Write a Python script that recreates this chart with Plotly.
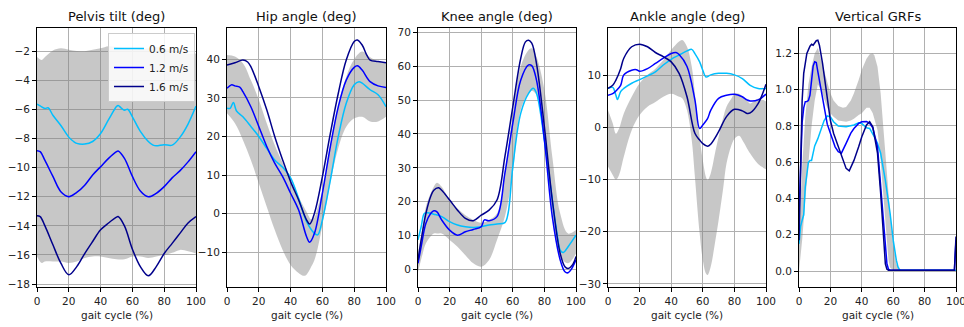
import plotly.graph_objects as go

# ---------------- DATA ----------------
speeds = ["0.6 m/s", "1.2 m/s", "1.6 m/s"]
titles = ["Pelvis tilt (deg)", "Hip angle (deg)", "Knee angle (deg)", "Ankle angle (deg)", "Vertical GRFs"]
xlabel = "gait cycle (%)"
x_ticks = [0, 20, 40, 60, 80, 100]

# Pelvis tilt
pel06_x = [0, 2, 5, 7, 10, 15, 20, 23, 25, 30, 35, 40, 45, 50, 51, 53, 55, 57, 60, 65, 70, 73, 75, 80, 85, 90, 95, 100]
pel06_y = [-5.63, -5.75, -5.93, -5.88, -6.4, -7.1, -7.9, -8.2, -8.33, -8.38, -8.2, -7.65, -6.7, -5.8, -5.72, -5.9, -6.05, -5.98, -6.5, -7.5, -8.2, -8.45, -8.5, -8.42, -8.45, -7.9, -7.0, -5.77]
pel12_x = [0, 2, 5, 10, 15, 20, 25, 30, 35, 40, 45, 50, 51, 55, 60, 65, 70, 75, 80, 85, 90, 95, 100]
pel12_y = [-8.83, -8.9, -9.5, -10.6, -11.65, -11.99, -11.7, -11.2, -10.5, -9.93, -9.36, -8.9, -8.85, -9.36, -10.6, -11.6, -12.0, -11.76, -11.3, -10.7, -10.2, -9.6, -8.9]
pel16_x = [0, 2, 5, 10, 15, 20, 25, 30, 35, 40, 45, 50, 51, 55, 60, 65, 70, 75, 80, 85, 90, 95, 100]
pel16_y = [-13.3, -13.36, -14.0, -15.3, -16.56, -17.36, -16.8, -15.9, -15.07, -14.27, -13.8, -13.4, -13.36, -14.0, -15.6, -16.8, -17.43, -16.8, -15.9, -15.2, -14.5, -13.8, -13.36]
pel_band_x = [0, 3, 5, 10, 15, 20, 25, 30, 35, 40, 45, 50, 55, 60, 65, 70, 75, 80, 85, 90, 95, 100]
pel_band_hi = [-2.4, -2.6, -2.4, -1.95, -1.8, -1.9, -1.98, -2.0, -1.9, -1.8, -1.65, -1.7, -1.8, -1.9, -1.85, -1.8, -1.7, -1.8, -1.9, -2.0, -2.15, -2.15]
pel_band_lo = [-16.1, -16.55, -16.45, -16.45, -16.45, -16.55, -16.45, -16.2, -16.1, -16.1, -16.2, -16.3, -16.3, -16.1, -16.1, -16.2, -16.1, -16.0, -15.85, -15.65, -15.75, -15.9]

# Hip angle
hip06_x = [0, 2, 4, 6, 10, 15, 20, 25, 30, 35, 40, 45, 50, 55, 57, 60, 65, 70, 75, 80, 83, 85, 90, 95, 100]
hip06_y = [27.3, 27.3, 28.8, 26.6, 25.1, 22.6, 20.0, 16.9, 13.9, 12.0, 9.3, 4.0, -2.0, -5.1, -5.5, -1.6, 8.7, 20.0, 28.6, 33.4, 34.2, 33.8, 32.1, 30.8, 27.7]
hip12_x = [0, 3, 5, 8, 10, 15, 20, 25, 30, 35, 40, 45, 50, 52, 55, 60, 65, 70, 75, 80, 82, 85, 90, 95, 100]
hip12_y = [32.5, 33.4, 33.1, 32.8, 31.6, 27.7, 22.6, 17.4, 13.1, 9.6, 5.3, 1.0, -5.9, -7.4, -5.1, 5.3, 17.4, 27.7, 34.6, 37.9, 38.3, 37.2, 34.2, 33.1, 32.7]
hip16_x = [0, 5, 10, 13, 15, 20, 25, 30, 35, 40, 45, 50, 52, 55, 60, 65, 70, 75, 80, 82, 85, 88, 90, 95, 100]
hip16_y = [38.5, 39.1, 39.8, 39.3, 38.1, 32.9, 26.9, 20.0, 13.9, 8.3, 3.6, -1.6, -2.7, 0.1, 9.6, 20.8, 31.2, 39.8, 44.6, 45.0, 43.7, 41.0, 39.8, 39.4, 39.1]
hip_band_x = [0, 5, 10, 15, 20, 25, 30, 35, 40, 45, 48, 50, 53, 55, 57, 60, 65, 70, 75, 80, 85, 90, 95, 100]
hip_band_hi = [41.1, 40.7, 39.0, 34.6, 29.5, 23.4, 17.8, 13.1, 8.3, 4.4, 2.0, 0.5, -1.5, -1.0, 1.5, 6.0, 17.0, 28.0, 35.5, 40.0, 42.0, 40.5, 39.4, 39.0]
hip_band_lo = [26.0, 23.4, 19.1, 13.9, 7.9, 1.8, -4.2, -9.4, -13.3, -15.4, -16.1, -15.8, -13.7, -12.0, -9.0, -3.0, 8.0, 17.0, 22.5, 24.7, 25.1, 23.9, 23.9, 25.1]

# Knee angle
knee06_x = [0, 2, 4, 6, 10, 15, 20, 25, 30, 35, 40, 45, 50, 55, 57, 60, 65, 70, 73, 75, 80, 85, 88, 90, 92, 95, 100]
knee06_y = [8.7, 12.6, 16.5, 16.7, 16.3, 15.6, 14.1, 13.1, 12.6, 12.4, 12.6, 13.1, 13.4, 13.8, 16.5, 30.3, 46.1, 52.0, 53.5, 52.0, 38.2, 20.5, 10.6, 5.7, 5.0, 6.7, 10.1]
knee12_x = [0, 2, 5, 8, 10, 12, 15, 20, 25, 30, 35, 40, 42, 45, 50, 55, 60, 65, 70, 72, 75, 80, 85, 90, 93, 95, 97, 100]
knee12_y = [1.8, 6.7, 13.6, 16.5, 17.3, 17.0, 14.6, 11.6, 10.1, 11.1, 11.8, 12.6, 14.6, 14.4, 15.6, 28.4, 43.1, 55.9, 60.4, 60.2, 55.9, 38.2, 15.6, 2.8, -0.7, -1.0, 0.0, 2.8]
knee16_x = [0, 2, 5, 8, 10, 13, 15, 20, 25, 30, 35, 40, 45, 50, 55, 60, 65, 68, 70, 72, 75, 80, 85, 90, 93, 95, 98, 100]
knee16_y = [2.8, 8.7, 16.5, 21.5, 23.4, 24.1, 23.4, 20.5, 17.5, 15.1, 14.4, 16.0, 17.5, 20.5, 33.3, 48.0, 62.3, 67.2, 67.7, 66.8, 60.8, 42.1, 20.5, 4.7, 0.8, 0.3, 1.5, 3.8]
knee_band_x = [0, 3, 5, 10, 12, 15, 20, 25, 30, 35, 40, 45, 50, 55, 60, 65, 70, 72, 75, 80, 85, 90, 95, 100]
knee_band_hi = [4.7, 12.6, 18.5, 24.4, 25.6, 24.4, 20.5, 18.0, 16.0, 14.6, 13.8, 14.6, 16.5, 28.4, 46.1, 59.9, 64.8, 65.3, 62.8, 53.0, 33.3, 16.5, 10.6, 11.6]
knee_band_lo = [-0.7, 4.7, 7.7, 10.6, 10.6, 10.6, 8.7, 6.7, 4.2, 1.8, 0.8, 2.8, 8.7, 15.6, 28.4, 47.1, 52.0, 52.8, 51.5, 37.2, 16.5, 3.7, 1.8, 4.7]

# Ankle angle
ank06_x = [0, 3, 5, 6, 8, 10, 15, 20, 25, 30, 35, 40, 45, 50, 53, 55, 58, 60, 62, 65, 70, 75, 80, 85, 90, 95, 100]
ank06_y = [7.5, 7.7, 6.2, 5.4, 6.9, 7.5, 8.5, 9.2, 9.9, 10.7, 12.0, 13.1, 13.9, 14.7, 15.0, 14.2, 12.6, 11.0, 9.7, 10.1, 10.4, 10.4, 10.1, 9.4, 8.1, 7.5, 7.5]
ank12_x = [0, 3, 5, 8, 10, 15, 18, 20, 25, 30, 35, 40, 43, 45, 50, 55, 58, 60, 63, 65, 70, 75, 80, 85, 88, 90, 95, 100]
ank12_y = [6.2, 6.5, 7.0, 8.1, 10.1, 11.0, 11.1, 10.8, 11.3, 12.3, 13.3, 14.2, 14.4, 14.0, 11.7, 5.3, -0.2, 0.5, 1.7, 3.3, 5.6, 6.2, 6.4, 5.9, 5.3, 5.1, 5.3, 6.4]
ank16_x = [0, 3, 5, 8, 10, 15, 20, 25, 30, 35, 40, 45, 50, 55, 58, 60, 63, 65, 70, 75, 80, 85, 88, 90, 95, 100]
ank16_y = [7.5, 8.1, 9.1, 11.3, 13.3, 15.5, 16.0, 15.5, 14.4, 13.6, 12.6, 10.4, 5.9, -1.1, -2.4, -3.1, -3.6, -3.2, -0.8, 2.1, 3.5, 3.2, 2.7, 2.8, 4.6, 8.3]
ank_band_x = [0, 3, 5, 7, 10, 15, 20, 25, 30, 35, 40, 45, 47, 50, 53, 55, 58, 60, 62, 63, 65, 68, 70, 73, 75, 78, 80, 83, 85, 88, 90, 95, 100]
ank_band_hi = [3.3, 0.8, -1.2, -0.2, 2.7, 5.9, 8.5, 10.1, 11.3, 12.9, 14.9, 16.5, 16.8, 15.5, 11.7, 6.5, -1.8, -6.3, -9.5, -10.1, -8.8, -4.5, -1.8, 2.0, 4.0, 5.5, 6.5, 6.5, 6.0, 5.2, 4.6, 5.5, 5.0]
ank_band_lo = [-7.5, -9.1, -10.0, -9.1, -5.6, -0.5, 2.4, 4.0, 4.9, 5.9, 6.5, 5.9, 5.6, 3.3, -2.4, -9.5, -20.3, -25.4, -28.0, -28.3, -26.7, -21.6, -17.8, -11.4, -6.9, -3.5, -2.2, -1.6, -2.4, -4.0, -5.0, -7.0, -8.0]

# Vertical GRFs
grf06_x = [0, 1, 2, 3, 4, 5, 6, 7, 8, 9, 10, 12, 14, 16, 18, 20, 22, 25, 30, 35, 38, 40, 43, 45, 48, 50, 52, 55, 58, 60, 62, 63, 64, 65, 100]
grf06_y = [0.15, 0.245, 0.28, 0.31, 0.465, 0.54, 0.6, 0.61, 0.61, 0.65, 0.69, 0.73, 0.78, 0.83, 0.855, 0.85, 0.823, 0.8, 0.796, 0.805, 0.818, 0.814, 0.79, 0.786, 0.74, 0.704, 0.65, 0.5, 0.32, 0.17, 0.06, 0.024, 0.008, 0.005, 0.005]
grf12_x = [0, 1, 2, 3, 4, 5, 6, 7, 8, 9, 10, 11, 12, 14, 15, 18, 20, 23, 25, 27, 30, 33, 35, 38, 40, 43, 45, 47, 50, 52, 54, 56, 57, 58, 99, 100]
grf12_y = [0.3, 0.6, 0.82, 0.9, 0.934, 0.935, 0.94, 0.97, 1.05, 1.13, 1.154, 1.15, 1.1, 1.0, 0.94, 0.81, 0.76, 0.685, 0.658, 0.65, 0.704, 0.76, 0.786, 0.814, 0.823, 0.825, 0.814, 0.79, 0.685, 0.465, 0.208, 0.04, 0.01, 0.005, 0.005, 0.17]
grf16_x = [0, 1, 2, 3, 4, 5, 7, 8, 9, 10, 11, 12, 13, 15, 18, 20, 22, 25, 28, 30, 32, 35, 38, 40, 43, 45, 47, 50, 52, 54, 55, 56, 57, 99, 100]
grf16_y = [0.17, 0.67, 0.94, 1.09, 1.16, 1.2, 1.24, 1.25, 1.245, 1.255, 1.27, 1.273, 1.245, 1.145, 0.96, 0.83, 0.76, 0.685, 0.61, 0.566, 0.553, 0.61, 0.685, 0.74, 0.805, 0.823, 0.796, 0.65, 0.43, 0.17, 0.04, 0.01, 0.005, 0.005, 0.19]
grf_band_x = [0, 2, 4, 6, 8, 10, 12, 14, 16, 18, 20, 22, 25, 28, 30, 33, 35, 38, 40, 43, 45, 47, 48, 50, 52, 54, 56, 57, 58, 60, 62, 64, 100]
grf_band_hi = [0.21, 0.575, 0.85, 1.03, 1.127, 1.2, 1.23, 1.17, 1.11, 1.04, 0.98, 0.94, 0.91, 0.9, 0.905, 0.94, 0.98, 1.053, 1.11, 1.17, 1.195, 1.2, 1.19, 1.127, 0.98, 0.76, 0.52, 0.42, 0.32, 0.15, 0.04, 0.005, 0.005]
grf_band_lo = [0.0, 0.17, 0.39, 0.61, 0.8, 0.94, 1.03, 1.0, 0.95, 0.9, 0.87, 0.85, 0.83, 0.825, 0.823, 0.83, 0.84, 0.86, 0.87, 0.9, 0.9, 0.87, 0.84, 0.777, 0.61, 0.39, 0.17, 0.06, 0.02, 0.005, 0.005, 0.005, 0.005]

# ---------------- STYLE ----------------
colors = ["#00BFFF", "#0000FF", "#00008B"]
band_color = "rgba(128,128,128,0.44)"
font_family = "DejaVu Sans"
W, H = 964, 327
ML, MR, MT, MB = 37, 8, 28, 40
plot_w = W - ML - MR
plot_h = H - MT - MB
px_extents = [(37, 196), (227, 386), (418, 576), (608, 766), (799, 956)]
domains = [((a - ML) / plot_w, (b - ML) / plot_w) for a, b in px_extents]

panels = [
    dict(band=(pel_band_x, pel_band_lo, pel_band_hi),
         lines=[(pel06_x, pel06_y), (pel12_x, pel12_y), (pel16_x, pel16_y)],
         yrange=[-18.2, -0.4], dtick=2, tick0=-18, fmt="", shape="spline"),
    dict(band=(hip_band_x, hip_band_lo, hip_band_hi),
         lines=[(hip06_x, hip06_y), (hip12_x, hip12_y), (hip16_x, hip16_y)],
         yrange=[-19.0, 48.1], dtick=10, tick0=0, fmt="", shape="spline"),
    dict(band=(knee_band_x, knee_band_lo, knee_band_hi),
         lines=[(knee06_x, knee06_y), (knee12_x, knee12_y), (knee16_x, knee16_y)],
         yrange=[-5.2, 71.3], dtick=10, tick0=0, fmt="", shape="spline"),
    dict(band=(ank_band_x, ank_band_lo, ank_band_hi),
         lines=[(ank06_x, ank06_y), (ank12_x, ank12_y), (ank16_x, ank16_y)],
         yrange=[-30.6, 19.1], dtick=10, tick0=0, fmt="", shape="spline"),
    dict(band=(grf_band_x, grf_band_lo, grf_band_hi),
         lines=[(grf06_x, grf06_y), (grf12_x, grf12_y), (grf16_x, grf16_y)],
         yrange=[-0.088, 1.34], dtick=0.2, tick0=0, fmt=".1f", shape="linear"),
]

fig = go.Figure()
layout = dict(
    width=W, height=H,
    margin=dict(l=ML, r=MR, t=MT, b=MB, pad=0, autoexpand=False),
    paper_bgcolor="white", plot_bgcolor="white",
    font=dict(family=font_family, size=10.5, color="#222222"),
    showlegend=True,
    legend=dict(x=(195 - ML) / plot_w, y=1 - (33 - MT) / plot_h,
                xanchor="right", yanchor="top", traceorder="normal",
                bgcolor="rgba(255,255,255,0.85)", bordercolor="#cccccc", borderwidth=1,
                font=dict(family=font_family, size=10.5, color="#222222"),
                itemwidth=30, tracegroupgap=0),
    annotations=[],
)

for i, p in enumerate(panels):
    n = i + 1
    xa = "x" if n == 1 else f"x{n}"
    ya = "y" if n == 1 else f"y{n}"
    bx, blo, bhi = p["band"]
    fig.add_trace(go.Scatter(x=bx, y=blo, xaxis=xa, yaxis=ya, mode="lines",
                             line=dict(width=0, shape=p["shape"], color=band_color),
                             showlegend=False, hoverinfo="skip"))
    fig.add_trace(go.Scatter(x=bx, y=bhi, xaxis=xa, yaxis=ya, mode="lines",
                             line=dict(width=0, shape=p["shape"], color=band_color),
                             fill="tonexty", fillcolor=band_color,
                             showlegend=False, hoverinfo="skip"))
    for k, (lx, ly) in enumerate(p["lines"]):
        fig.add_trace(go.Scatter(x=lx, y=ly, xaxis=xa, yaxis=ya, mode="lines",
                                 name=speeds[k],
                                 line=dict(color=colors[k], width=1.5, shape=p["shape"]),
                                 showlegend=(n == 1)))
    axis_common = dict(showline=True, mirror=True, linecolor="black", linewidth=1,
                       ticks="outside", ticklen=4, tickwidth=1, tickcolor="black",
                       showgrid=True, gridcolor="#b0b0b0", gridwidth=1, zeroline=False,
                       automargin=False, ticklabeloverflow="allow",
                       tickfont=dict(family=font_family, size=10.5, color="#222222"))
    layout["xaxis" if n == 1 else f"xaxis{n}"] = dict(
        domain=list(domains[i]), anchor=ya, range=[0, 100],
        tickmode="array", tickvals=x_ticks, ticktext=[str(v) for v in x_ticks],
        **axis_common)
    layout["yaxis" if n == 1 else f"yaxis{n}"] = dict(
        domain=[0, 1], anchor=xa, range=p["yrange"], tickmode="linear",
        tick0=p["tick0"], dtick=p["dtick"], tickformat=p["fmt"], **axis_common)
    xc = (domains[i][0] + domains[i][1]) / 2
    layout["annotations"].append(dict(
        text=titles[i], x=xc, y=1,
        xref="paper", yref="paper", xanchor="center", yanchor="bottom", yshift=2,
        showarrow=False, font=dict(family=font_family, size=13, color="#111111")))
    layout["annotations"].append(dict(
        text=xlabel, x=xc, y=0,
        xref="paper", yref="paper", xanchor="center", yanchor="middle", yshift=-28,
        showarrow=False, font=dict(family=font_family, size=10.5, color="#222222")))

fig.update_layout(**layout)
fig.write_html("out.html",
               config={"displayModeBar": False},
               post_script="document.body.style.margin='0';document.body.style.padding='0';")
